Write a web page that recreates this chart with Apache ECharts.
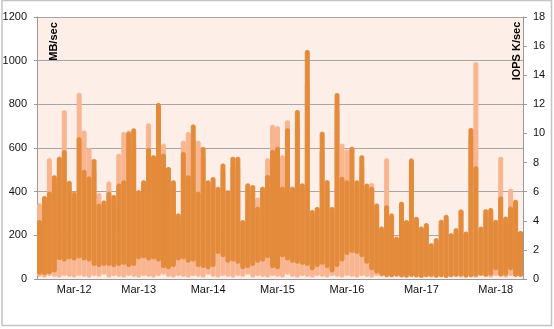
<!DOCTYPE html>
<html><head><meta charset="utf-8">
<script src="https://cdn.jsdelivr.net/npm/echarts@6/dist/echarts.min.js"></script>
<style>html,body{margin:0;padding:0;background:#fff}#c{width:554px;height:329px}</style>
</head><body><div id="c"></div>
<script>
// Tick labels of the time axis and the sample index each one belongs to
const xTickLabels = ['Mar-12','Mar-13','Mar-14','Mar-15','Mar-16','Mar-17','Mar-18'];
const xTickIndex = [7, 20, 34, 48, 62, 77, 92];

// MB/sec (left axis): high and low of the dense trace in each sample slot
const mbPeak = [270,380,400,475,560,590,450,400,650,500,
  470,550,345,360,400,385,437,452,674,690,
  407,452,600,567,806,574,513,452,300,582,
  475,708,400,605,452,467,422,529,407,560,
  560,270,438,430,331,423,476,591,606,423,
  690,423,774,438,1049,316,330,675,453,330,
  852,468,452,605,452,567,437,422,346,240,
  338,300,194,354,270,552,285,240,256,164,
  187,271,294,210,233,317,217,692,516,240,
  320,325,271,378,286,332,363,220];
const mbTrough = [20,18,22,30,87,80,90,85,95,85,
  80,60,55,60,60,55,60,65,55,60,
  90,95,85,90,80,50,45,55,85,90,
  75,80,55,50,45,55,115,100,75,80,
  70,45,50,60,75,80,95,50,45,100,
  85,75,70,65,60,40,55,65,50,30,
  55,80,110,120,115,100,70,40,25,15,
  10,8,12,8,6,10,8,5,8,10,
  6,8,5,8,10,12,6,8,10,15,
  10,15,40,12,15,40,10,10];

// IOPS K/sec (right axis): high and low in each sample slot
const iopsPeak = [5.2,5.1,8.3,6.5,8.3,11.6,6.3,5.7,12.8,10.2,
  9.0,7.5,5.9,5.1,6.7,5.4,8.6,10.1,10.2,9.3,
  5.7,6.3,10.7,8.1,10.8,9.3,7.2,6.3,4.2,9.5,
  10.1,9.6,9.5,8.4,6.3,6.5,6.0,7.5,5.7,7.8,
  7.8,3.8,6.0,6.0,5.6,6.0,8.3,10.6,10.5,8.5,
  10.9,6.0,10.5,6.2,13.5,4.5,4.7,8.9,6.3,4.7,
  11.7,9.3,8.9,9.1,6.3,7.8,6.2,6.6,4.8,3.3,
  8.3,4.2,2.7,5.0,3.8,7.5,3.9,3.3,3.6,2.3,
  2.6,3.8,4.2,3.0,3.3,4.8,3.0,9.8,14.9,3.3,
  4.5,4.7,3.9,8.4,4.1,6.2,5.1,3.0];
const iopsTrough = [0.15,0.1,0.2,0.15,0.1,0.2,0.15,0.1,0.2,0.15,
  0.1,0.2,0.15,0.3,0.1,0.2,0.15,0.1,0.2,0.15,
  0.1,0.2,0.15,0.1,0.2,0.3,0.15,0.1,0.2,0.15,
  0.1,0.2,0.15,0.1,0.3,0.15,0.1,0.2,0.15,0.1,
  0.2,0.15,0.3,0.1,0.2,0.15,0.1,0.2,0.15,0.1,
  0.3,0.15,0.1,0.2,0.15,0.1,0.2,0.15,0.1,0.2,
  0.15,0.1,0.2,0.15,0.1,0.2,0.15,0.1,0.2,0.15,
  0.1,0.2,0.15,0.1,0.2,0.15,0.1,0.2,0.15,0.1,
  0.2,0.15,0.1,0.2,0.15,0.1,0.2,0.15,0.1,0.2,
  0.15,0.1,0.2,0.15,0.1,0.2,0.15,0.15];

const categories = mbPeak.map((_, i) => String(i));
const mbBand = mbPeak.map((v, i) => v - mbTrough[i]);
const iopsBand = iopsPeak.map((v, i) => +(v - iopsTrough[i]).toFixed(3));

const DARK = '#e38b3b', LIGHT = '#f8b590';
const FONT = '"Liberation Sans", Arial, sans-serif';
const chart = echarts.init(document.getElementById('c'), null, {renderer: 'canvas'});
chart.setOption({
  animation: false,
  backgroundColor: '#ffffff',
  grid: {left: 37, right: 31, top: 17, bottom: 50, show: true, backgroundColor: '#fdeee7', borderWidth: 0, outerBoundsMode: 'none'},
  xAxis: {
    type: 'category', data: categories, boundaryGap: true,
    axisLine: {show: true, lineStyle: {color: '#999', width: 1}},
    axisTick: {show: false},
    axisLabel: {
      interval: (idx) => xTickIndex.indexOf(idx) >= 0,
      formatter: (v) => { const j = xTickIndex.indexOf(Number(v)); return j >= 0 ? xTickLabels[j] : ''; },
      color: '#111', fontSize: 11, fontFamily: FONT, margin: 5
    },
    splitLine: {show: false}
  },
  yAxis: [{
    type: 'value', min: 0, max: 1200, interval: 200, position: 'left',
    axisLine: {show: true, lineStyle: {color: '#999'}},
    axisTick: {show: true, inside: false, length: 3, lineStyle: {color: '#999'}},
    axisLabel: {color: '#111', fontSize: 11, fontFamily: FONT, margin: 10, formatter: (v) => String(v)},
    splitLine: {show: true, lineStyle: {color: '#a6a6a6', width: 1}}
  }, {
    type: 'value', min: 0, max: 18, interval: 2, position: 'right',
    axisLine: {show: true, lineStyle: {color: '#999'}},
    axisTick: {show: true, inside: false, length: 4, lineStyle: {color: '#999'}},
    axisLabel: {color: '#111', fontSize: 11, fontFamily: FONT, margin: 10, formatter: (v) => String(v)},
    splitLine: {show: false}
  }],
  series: [
    {name: 'io-base', type: 'bar', stack: 'io', yAxisIndex: 1, data: iopsTrough,
     barGap: '-100%', barCategoryGap: '0%', silent: true,
     itemStyle: {color: 'rgba(0,0,0,0)'}},
    {name: 'IOPS K/sec', type: 'bar', stack: 'io', yAxisIndex: 1, data: iopsBand,
     barGap: '-100%', barCategoryGap: '0%',
     itemStyle: {color: LIGHT, borderColor: LIGHT, borderWidth: 1, borderRadius: 1.5}},
    {name: 'mb-base', type: 'bar', stack: 'mb', yAxisIndex: 0, data: mbTrough,
     barGap: '-100%', barCategoryGap: '0%', silent: true,
     itemStyle: {color: 'rgba(0,0,0,0)'}},
    {name: 'MB/sec', type: 'bar', stack: 'mb', yAxisIndex: 0, data: mbBand,
     barGap: '-100%', barCategoryGap: '0%',
     itemStyle: {color: DARK, borderColor: DARK, borderWidth: 1, borderRadius: 1.5}}
  ],
  graphic: [
    {type: 'text', z: 100, x: 54, y: 41.5, rotation: Math.PI / 2,
     style: {text: 'MB/sec', font: 'bold 11px ' + FONT, fill: '#000', align: 'center', verticalAlign: 'middle'}},
    {type: 'text', z: 100, x: 517, y: 51, rotation: Math.PI / 2,
     style: {text: 'IOPS K/sec', font: 'bold 11px ' + FONT, fill: '#000', align: 'center', verticalAlign: 'middle'}},
    {type: 'rect', z: 100, shape: {x: 2, y: 0.5, width: 549.5, height: 325},
     style: {fill: 'none', stroke: '#c4c4c4', lineWidth: 1.5}}
  ]
});
</script></body></html>
